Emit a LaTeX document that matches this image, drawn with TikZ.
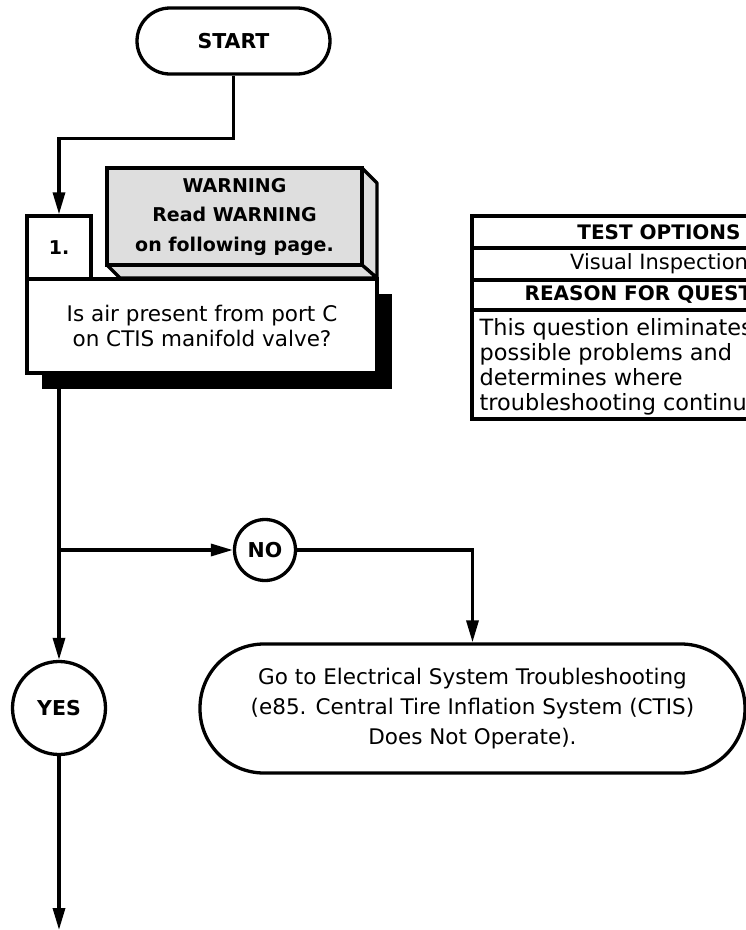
\documentclass[tikz,border=0pt]{standalone}
\usepackage{fontspec}
\setmainfont{DejaVu Sans}
\usetikzlibrary{arrows.meta}
\begin{document}
\begin{tikzpicture}[x=1pt,y=-1pt,
  line width=3.3pt,
  txt/.style={font=\fontsize{21.5}{25}\selectfont},
  bld/.style={font=\fontsize{20.5}{25}\selectfont\bfseries},
  arr/.style={-{Triangle[length=22pt,width=12pt]}, line width=3.3pt},
  pill/.style={draw, rounded corners=#1, inner sep=0pt, align=center, fill=white},
  circ/.style={draw, circle, inner sep=0pt, minimum size=#1, fill=white, bld},
  box/.style={draw, inner sep=0pt, align=center, fill=white},
  warnfill/.style={fill=black!13, draw}
]
\useasboundingbox (0,0) rectangle (746,930);

% START
\node[pill=33pt, minimum width=193pt, minimum height=66pt, bld] (start) at (233.5,41) {START};

% Step number box
\node[box, minimum width=64pt, minimum height=63pt, font=\fontsize{19}{25}\selectfont\bfseries] (b1) at (59,247.5) {1.};

% Warning 3D box
\path[warnfill, line join=round] (362,168) -- (377,183) -- (377,278) -- (362,265) -- cycle;
\path[warnfill, line join=round] (107,265) -- (362,265) -- (377,278) -- (120,278) -- cycle;
\node[draw, fill=black!13, inner sep=0pt, minimum width=255pt, minimum height=97pt,
      align=center, font=\fontsize{19}{29.5}\selectfont\bfseries] (warn) at (234.5,216.5)
      {WARNING\\Read WARNING\\on following page.};

% Question box with shadow
\fill (42,294) rectangle (392,389);
\node[box, minimum width=350pt, minimum height=94pt, txt] (q) at (202,326)
      {Is air present from port C\\on CTIS manifold valve?};

% Test options table
\draw (472,216) rectangle (844,419);
\draw (472,248) -- (844,248);
\draw (472,280) -- (844,280);
\draw (472,310) -- (844,310);
\node[bld, font=\fontsize{20}{25}\selectfont\bfseries] (to) at (659,232) {TEST OPTIONS};
\node[font=\fontsize{21}{25}\selectfont] (vi) at (659,264) {Visual Inspection};
\node[font=\fontsize{20}{25}\selectfont\bfseries] (rq) at (659,295) {REASON FOR QUESTION};
\node[anchor=north west, inner sep=0pt, align=left, font=\fontsize{22.4}{25}\selectfont] (body) at (478,317)
  {This question eliminates\\possible problems and\\determines where\\troubleshooting continues.};

% Decision circles
\node[circ=61pt] (no) at (265,550) {NO};
\node[circ=93pt] (yes) at (59,708) {YES};

% Go to box
\node[pill=64pt, minimum width=545pt, minimum height=129pt, txt, font=\fontsize{21.5}{30}\selectfont] (go) at (472.5,708.5)
  {Go to Electrical System Troubleshooting\\(e85. Central Tire Inflation System (CTIS)\\Does Not Operate).};

% Connectors
\coordinate (br) at (59,550);
\coordinate (endp) at (59,930);
\draw[arr] (start.south) -- ++(0,63) -| (b1.north);
\draw[arr] (59,389) -- (yes.north);
\draw[arr] (br) -- (no.west);
\draw[arr] (no.east) -| (go.north);
\draw[arr] (yes.south) -- (endp);
\end{tikzpicture}
\end{document}
